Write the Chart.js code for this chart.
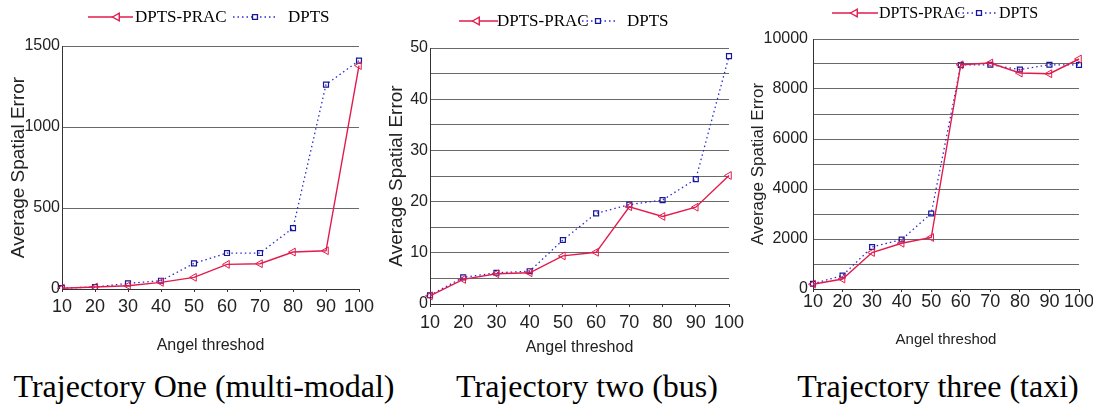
<!DOCTYPE html>
<html>
<head>
<meta charset="utf-8">
<script src="https://cdn.jsdelivr.net/npm/chart.js"></script>
<style>
  html, body { margin: 0; padding: 0; background: #fff; overflow: hidden; }
  #wrap { position: relative; width: 1093px; height: 409px; }
  canvas { position: absolute; top: 0; }
  .cap {
    position: absolute; top: 370px; width: 420px; text-align: center;
    font-family: "Liberation Serif", "Times New Roman", serif;
    font-size: 32px; line-height: 32px; color: #000; white-space: nowrap;
  }
</style>
</head>
<body>
<div id="wrap">
  <canvas id="c1" width="380" height="360" style="left:0px"></canvas>
  <canvas id="c2" width="380" height="360" style="left:370px"></canvas>
  <canvas id="c3" width="360" height="360" style="left:740px"></canvas>
  <div class="cap" style="left:-6px">Trajectory One (multi-modal)</div>
  <div class="cap" style="left:377px">Trajectory two (bus)</div>
  <div class="cap" style="left:728px">Trajectory three (taxi)</div>
</div>
<script>
// angle thresholds (x axis)
const angles = ['10', '20', '30', '40', '50', '60', '70', '80', '90', '100'];
const seriesNames = ['DPTS-PRAC', 'DPTS'];

// Trajectory one (multi-modal)
const oneDptsPrac = [5, 12, 20, 41, 72, 152, 156, 228, 236, 1379];
const oneDpts = [6, 12, 35, 51, 158, 222, 222, 376, 1262, 1410];
const oneAxis = [0, 1500, 500, 500];   // min, max, grid step, label step

// Trajectory two (bus)
const twoDptsPrac = [1.6, 4.8, 5.9, 6.1, 9.4, 10.1, 19.0, 17.1, 18.9, 25.1];
const twoDpts = [1.7, 5.2, 6.1, 6.4, 12.5, 17.7, 19.4, 20.3, 24.4, 48.4];
const twoAxis = [0, 50, 5, 10];

// Trajectory three (taxi)
const threeDptsPrac = [190, 400, 1460, 1830, 2060, 8970, 9040, 8640, 8610, 9200];
const threeDpts = [210, 540, 1680, 1980, 3020, 8960, 8970, 8780, 8970, 8960];
const threeAxis = [0, 10000, 1000, 2000];

const xTitle = 'Angel threshod';
const yTitle = 'Average Spatial Error';

const RED = '#e31b4c';
const BLUE = '#2b2bd0';
const DARK_BLUE = '#16169a';
const SANS = '"Liberation Sans", Arial, sans-serif';
const SERIF = '"Liberation Serif", "Times New Roman", serif';

// legend drawn as MATLAB style: short line with the marker on it, then the name
const lineLegend = {
  id: 'lineLegend',
  afterDraw(chart, args, opts) {
    const ctx = chart.ctx;
    ctx.save();
    opts.items.forEach((it, i) => {
      const ds = chart.data.datasets[i];
      ctx.strokeStyle = ds.borderColor;
      ctx.lineWidth = ds.borderWidth;
      ctx.setLineDash(ds.borderDash || []);
      ctx.beginPath();
      ctx.moveTo(it.x1, opts.y);
      ctx.lineTo(it.x2, opts.y);
      ctx.stroke();
      ctx.setLineDash([]);
      ctx.strokeStyle = ds.pointBorderColor || ds.borderColor;
      ctx.fillStyle = '#fff';
      Chart.helpers.drawPoint(ctx, {
        pointStyle: ds.pointStyle, radius: ds.pointRadius,
        rotation: ds.pointRotation || 0, borderWidth: 1
      }, it.m, opts.y);
      ctx.fillStyle = '#000';
      ctx.font = opts.fontSize + 'px ' + SERIF;
      ctx.textBaseline = 'middle';
      ctx.textAlign = 'left';
      ctx.fillText(ds.label, it.tx, opts.y + 1);
    });
    ctx.restore();
  }
};

function makeChart(id, prac, dpts, axis, g) {
  const [yMin, yMax, gridStep, labelStep] = axis;
  return new Chart(document.getElementById(id), {
    type: 'line',
    data: {
      labels: angles,
      datasets: [{
        label: seriesNames[0],
        data: prac,
        borderColor: RED,
        borderWidth: 1.4,
        pointStyle: 'triangle',
        pointRotation: 270,
        pointRadius: 4.5,
        pointBorderWidth: 1,
        pointBackgroundColor: 'rgba(255,255,255,0)',
        pointBorderColor: RED,
        tension: 0
      }, {
        label: seriesNames[1],
        data: dpts,
        borderColor: BLUE,
        borderWidth: 1.3,
        borderDash: [1.5, 3],
        pointStyle: 'rect',
        pointRadius: 3.5,
        pointBorderWidth: 1.2,
        pointBackgroundColor: 'rgba(255,255,255,0)',
        pointBorderColor: DARK_BLUE,
        tension: 0
      }]
    },
    options: {
      responsive: false,
      animation: false,
      layout: { padding: { top: g.top, right: g.right, left: 0, bottom: 0 } },
      plugins: {
        legend: { display: false },
        tooltip: { enabled: false },
        lineLegend: g.legend
      },
      scales: {
        x: {
          type: 'category',
          offset: false,
          afterFit: s => { s.height = 360 - g.bottom; },
          grid: { display: true, drawOnChartArea: false, tickLength: 3, color: '#333' },
          border: { display: true, color: '#333', width: 1 },
          ticks: {
            autoSkip: false, maxRotation: 0, color: '#222', padding: g.xPad,
            font: { family: SANS, size: 18 }
          },
          title: {
            display: true, text: xTitle, color: '#222',
            font: { family: SANS, size: g.xTitleSize, lineHeight: 1.2 },
            padding: { top: 0, bottom: g.xTitlePad }
          }
        },
        y: {
          min: yMin, max: yMax,
          afterFit: s => { s.width = g.left; },
          grid: { color: '#6a6a6a', lineWidth: 1, drawTicks: false },
          border: { display: true, color: '#333', width: 1 },
          ticks: {
            autoSkip: false,
            stepSize: gridStep, color: '#222', padding: g.yPad,
            font: { family: SANS, size: 16 },
            callback: v => (v % labelStep === 0 ? String(v) : '')
          },
          title: {
            display: true, text: yTitle, color: '#222',
            font: { family: SANS, size: g.yTitleSize, lineHeight: 1.2 },
            padding: { top: g.yTitlePad, bottom: 0 }
          }
        }
      }
    },
    plugins: [lineLegend]
  });
}

makeChart('c1', oneDptsPrac, oneDpts, oneAxis, {
  top: 46, bottom: 289, left: 62, right: 21, xPad: 4, yPad: 2,
  xTitleSize: 16, xTitlePad: 5, yTitleSize: 19, yTitlePad: 7,
  legend: { y: 17, fontSize: 17, items: [
    { x1: 88, x2: 133, m: 117, tx: 135 },
    { x1: 233, x2: 277, m: 255, tx: 288 }
  ] }
});

makeChart('c2', twoDptsPrac, twoDpts, twoAxis, {
  top: 48, bottom: 304, left: 60, right: 21, xPad: 5, yPad: 2,
  xTitleSize: 16, xTitlePad: 3, yTitleSize: 19, yTitlePad: 15,
  legend: { y: 21, fontSize: 17, items: [
    { x1: 89, x2: 128, m: 107, tx: 127 },
    { x1: 212, x2: 245, m: 228, tx: 257 }
  ] }
});

makeChart('c3', threeDptsPrac, threeDpts, threeAxis, {
  top: 39, bottom: 289, left: 73, right: 21, xPad: -1, yPad: 5,
  xTitleSize: 15, xTitlePad: 11, yTitleSize: 17, yTitlePad: 8,
  legend: { y: 13, fontSize: 16, items: [
    { x1: 92, x2: 138, m: 115, tx: 139 },
    { x1: 218, x2: 258, m: 239, tx: 259 }
  ] }
});
</script>
</body>
</html>
